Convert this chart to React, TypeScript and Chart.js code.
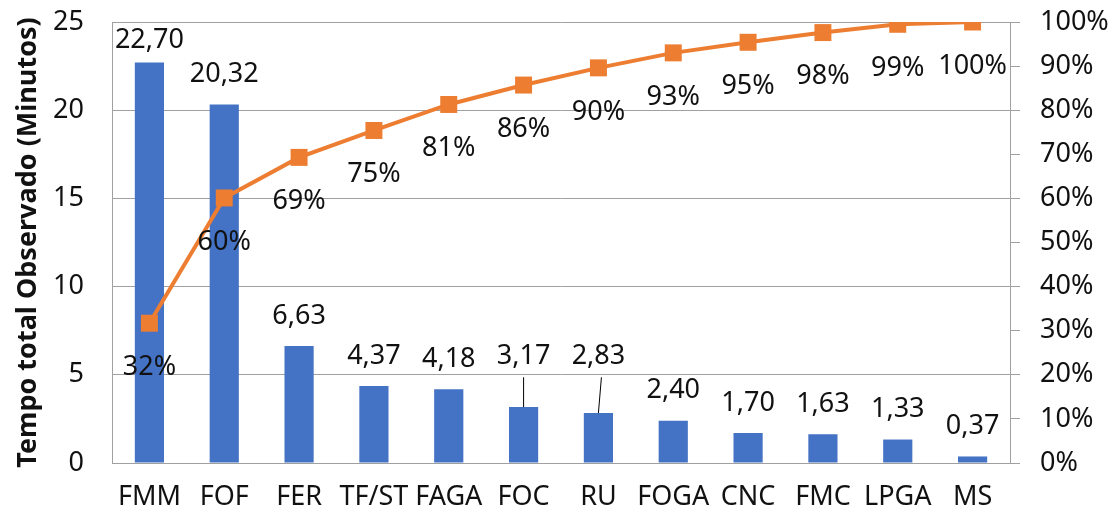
import React, { useEffect, useRef } from "react";
import { Chart, registerables } from "chart.js";

Chart.register(...registerables);

const categories = ["FMM", "FOF", "FER", "TF/ST", "FAGA", "FOC", "RU", "FOGA", "CNC", "FMC", "LPGA", "MS"];
const minutes = [22.7, 20.32, 6.63, 4.37, 4.18, 3.17, 2.83, 2.4, 1.7, 1.63, 1.33, 0.37];
const cumulativePct = [31.7, 60.1, 69.3, 75.4, 81.3, 85.7, 89.6, 93.0, 95.4, 97.6, 99.48, 100];
const leftTicks = [0, 5, 10, 15, 20, 25];
const rightTicks = [0, 10, 20, 30, 40, 50, 60, 70, 80, 90, 100];

const FONT = "'Noto Sans', 'Open Sans', sans-serif";
const TEXT = "#111111";
const GRID = "#a0a0a0";

const labelPlugin = {
  id: "paretoLabels",
  afterDatasetsDraw(chart: any) {
    const ctx = chart.ctx;
    const yScale = chart.scales.y;
    const area = chart.chartArea;
    ctx.save();
    ctx.font = `27px ${FONT}`;
    ctx.fillStyle = TEXT;
    ctx.textAlign = "center";
    ctx.textBaseline = "middle";
    // bar labels
    const barMeta = chart.getDatasetMeta(1);
    const raised = [5, 6];
    const raisedY = yScale.getPixelForValue(6.05);
    barMeta.data.forEach((el: any, i: number) => {
      const v = minutes[i];
      const txt = v.toFixed(2).replace(".", ",");
      let y = el.y - 30;
      if (y < area.top + 18) y = area.top + 18;
      if (raised.includes(i)) {
        y = raisedY;
        ctx.save();
        ctx.strokeStyle = "#000";
        ctx.lineWidth = 1;
        ctx.beginPath();
        ctx.moveTo(el.x + (i === 6 ? 3 : 0), y + 21);
        ctx.lineTo(el.x, el.y);
        ctx.stroke();
        ctx.restore();
      }
      ctx.fillText(txt, el.x, y);
    });
    // line labels
    const lineMeta = chart.getDatasetMeta(0);
    lineMeta.data.forEach((el: any, i: number) => {
      const txt = Math.round(cumulativePct[i]) + "%";
      ctx.fillText(txt, el.x, el.y + 44);
    });
    ctx.restore();
  },
};

const noVPad = (scale: any) => {
  scale.paddingTop = 0;
  scale.paddingBottom = 0;
};

export default function App() {
  const ref = useRef<HTMLCanvasElement>(null);
  useEffect(() => {
    if (!ref.current) return;
    const chart = new Chart(ref.current, {
      type: "bar",
      data: {
        labels: categories,
        datasets: [
          {
            type: "line",
            label: "Acumulado",
            data: cumulativePct,
            yAxisID: "y1",
            borderColor: "#ED7D31",
            backgroundColor: "#ED7D31",
            borderWidth: 4,
            pointStyle: "rect",
            pointRadius: 12,
            pointBorderWidth: 0,
            pointBackgroundColor: "#ED7D31",
            tension: 0,
            order: 0,
          } as any,
          {
            type: "bar",
            label: "Tempo",
            data: minutes,
            yAxisID: "y",
            backgroundColor: "#4472C4",
            categoryPercentage: 1,
            barPercentage: 0.39,
            order: 1,
          },
        ],
      },
      options: {
        animation: false,
        responsive: false,
        maintainAspectRatio: false,
        layout: { padding: { top: 22, left: 0, right: 0, bottom: 0 } },
        plugins: {
          legend: { display: false },
          tooltip: { enabled: false },
        },
        scales: {
          x: {
            grid: { display: false, drawTicks: false },
            border: { display: true, color: GRID, width: 1 },
            ticks: {
              color: TEXT,
              font: { family: FONT, size: 27 },
              padding: 18,
              maxRotation: 0,
              autoSkip: false,
            },
            afterFit(scale: any) {
              scale.height = 51;
              scale.paddingLeft = 0;
              scale.paddingRight = 0;
            },
          },
          y: {
            position: "left",
            min: 0,
            max: 25,
            afterBuildTicks(scale: any) {
              scale.ticks = leftTicks.map((v) => ({ value: v }));
            },
            grid: { color: GRID, lineWidth: 1, drawTicks: false },
            border: { display: true, color: GRID, width: 1 },
            ticks: {
              color: TEXT,
              font: { family: FONT, size: 27 },
              padding: 28,
            },
            title: {
              display: true,
              text: "Tempo total Observado (Minutos)",
              color: TEXT,
              font: { family: FONT, size: 27, weight: "bold" },
              padding: { top: 12, bottom: 0 },
            },
            afterFit(scale: any) {
              scale.width = 112;
              noVPad(scale);
            },
          },
          y1: {
            position: "right",
            min: 0,
            max: 100,
            afterBuildTicks(scale: any) {
              scale.ticks = rightTicks.map((v) => ({ value: v }));
            },
            grid: { drawOnChartArea: false, drawTicks: true, tickLength: 10, color: GRID },
            border: { display: true, color: GRID, width: 1 },
            ticks: {
              color: TEXT,
              font: { family: FONT, size: 27 },
              padding: 20,
              callback: (v: any) => v + "%",
            },
            afterFit(scale: any) {
              scale.width = 103;
              noVPad(scale);
            },
          },
        },
      },
      plugins: [labelPlugin],
    });
    return () => chart.destroy();
  }, []);
  return (
    <div style={{ position: "fixed", left: 0, top: 0, width: 1113, height: 514, background: "#fff" }}>
      <canvas ref={ref} width={1113} height={514} style={{ width: 1113, height: 514 }} />
    </div>
  );
}
